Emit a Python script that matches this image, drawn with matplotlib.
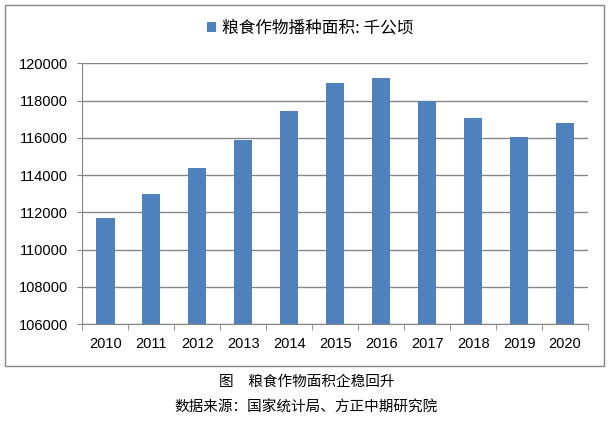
import numpy as np
import matplotlib.pyplot as plt
from matplotlib.patches import Rectangle

plt.rcParams['font.family'] = ['Noto Sans CJK SC', 'DejaVu Sans']

# 粮食作物播种面积（千公顷）
years = ['2010', '2011', '2012', '2013', '2014', '2015', '2016', '2017', '2018', '2019', '2020']
area = [111695, 112980, 114368, 115908, 117455, 118963, 119230, 117989, 117038, 116064, 116768]
series_name = '粮食作物播种面积: 千公顷'
caption = '图　粮食作物面积企稳回升'
source = '数据来源：国家统计局、方正中期研究院'

fig = plt.figure(figsize=(6.13, 4.21), dpi=100)
ax = fig.add_axes([0.1343, 0.2304, 0.8250, 0.6192])

x = np.arange(len(years))
bars = ax.bar(x, area, width=0.4, color='#4F81BD', label=series_name, zorder=3)

ax.set_ylim(106000, 120000)
ax.set_yticks(np.arange(106000, 120001, 2000))
ax.set_yticklabels([str(v) for v in range(106000, 120001, 2000)],
                   family=['Liberation Sans'], fontsize=10.5)
ax.set_xlim(-0.5, len(years) - 0.5)
ax.set_xticks(x)
ax.set_xticklabels(years, family=['Liberation Sans'], fontsize=10.5)
ax.set_xticks(np.arange(-0.5, len(years)), minor=True)
ax.tick_params(axis='x', which='major', length=0, pad=9)
ax.tick_params(axis='x', which='minor', length=4, color='#868686')
ax.tick_params(axis='y', length=3.5, color='#868686', pad=7)

ax.grid(axis='y', color='#868686', lw=1, zorder=0)
for s in ['top', 'right']:
    ax.spines[s].set_visible(False)
ax.spines['left'].set_color('#868686')
ax.spines['bottom'].set_color('#868686')

fig.legend(handles=[bars], labels=[series_name], loc='center',
           bbox_to_anchor=(0.506, 0.933), frameon=False, fontsize=12,
           handlelength=0.5, handleheight=0.5, handletextpad=0.35)

# chart frame
fig.patches.append(Rectangle((5 / 613, 1 - 366 / 421), 599 / 613, 361 / 421,
                             transform=fig.transFigure, fill=False,
                             edgecolor='#868686', lw=1))

fig.text(0.5, 1 - 382 / 421, caption, ha='center', va='center', fontsize=10.5)
fig.text(0.5, 1 - 408 / 421, source, ha='center', va='center', fontsize=10.5)

fig.savefig('out.png', dpi=100)
